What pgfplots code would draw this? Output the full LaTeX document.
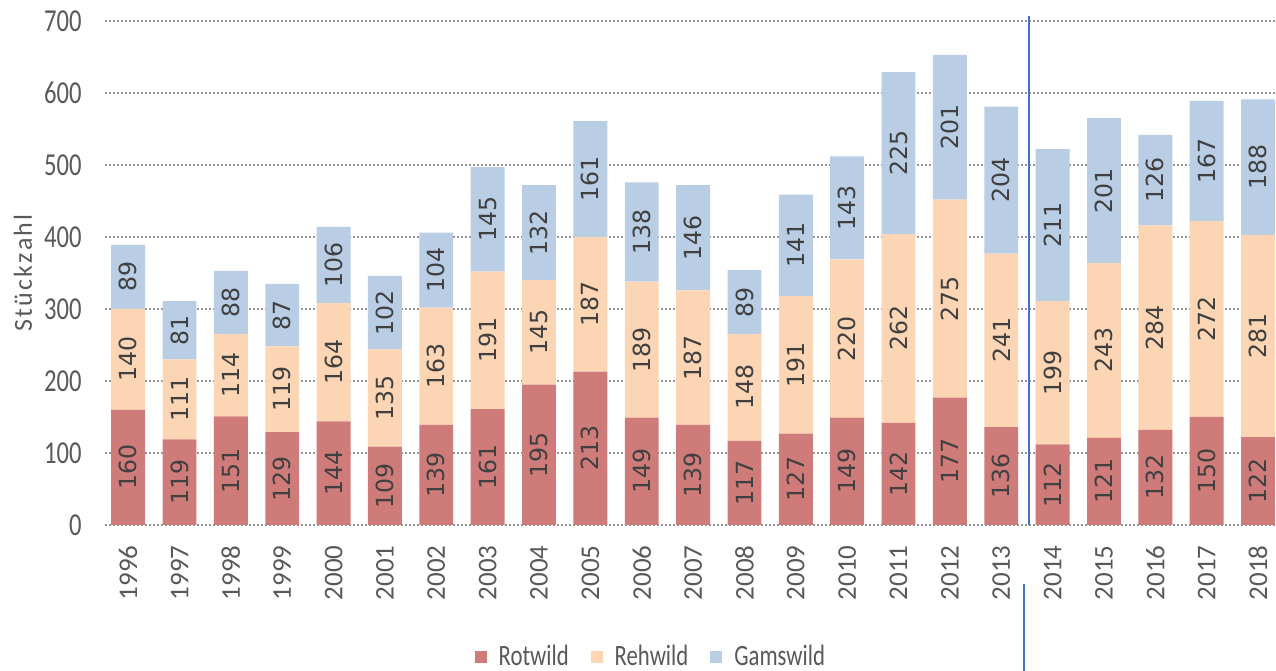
\documentclass[border=0pt]{standalone}
\usepackage{fontspec}
\setmainfont{Carlito}
\newfontfamily\condfont[FakeStretch=0.77]{Carlito}
\newfontfamily\barfont{DejaVu Sans}
\newfontfamily\ylabfont[LetterSpace=9]{Carlito}
\usepackage{pgfplots}
\usepackage{pgfplotstable}
\pgfplotsset{compat=1.18}
\definecolor{rotc}{HTML}{CF7B79}
\definecolor{rehc}{HTML}{FCD5B4}
\definecolor{gamc}{HTML}{B9CDE5}
\definecolor{labc}{HTML}{404040}
\definecolor{tickc}{HTML}{595959}
\definecolor{linec}{HTML}{4472C4}
\pgfplotstableread{
x rot reh gams
0 160 140 89
1 119 111 81
2 151 114 88
3 129 119 87
4 144 164 106
5 109 135 102
6 139 163 104
7 161 191 145
8 195 145 132
9 213 187 161
10 149 189 138
11 139 187 146
12 117 148 89
13 127 191 141
14 149 220 143
15 142 262 225
16 177 275 201
17 136 241 204
18 112 199 211
19 121 243 201
20 132 284 126
21 150 272 167
22 122 281 188
}\data
\begin{document}
\begin{tikzpicture}
\begin{axis}[
  scale only axis, width=585.5pt, height=252pt,
  ybar stacked, bar width=0.66,
  xmin=-0.45, xmax=22.35, ymin=0, ymax=700,
  ytick={0,100,...,700},
  xtick={0,...,22},
  xticklabels={1996,1997,1998,1999,2000,2001,2002,2003,2004,2005,2006,2007,2008,2009,2010,2011,2012,2013,2014,2015,2016,2017,2018},
  axis line style={draw=none}, tick style={draw=none},
  ymajorgrids, grid style={color=gray!85, line width=1pt, dash pattern=on 1pt off 1pt},
  clip=false,
  yticklabel style={font=\condfont\fontsize{16}{16}\selectfont, text=tickc, anchor=east, inner sep=0pt, xshift=-11.5pt},
  /pgf/number format/assume math mode=true,
  xticklabel style={yshift=-10pt, rotate=90, anchor=east, inner sep=0pt, font=\fontsize{13.5}{14}\selectfont, text=tickc},
  ylabel={Stückzahl},
  ylabel style={at={(axis description cs:-0.070,0.5)}, anchor=center, rotate=0, font=\ylabfont\fontsize{13}{14}\selectfont, text=tickc},
  nodes near coords style={rotate=90, anchor=center, inner sep=0pt, font=\barfont\fontsize{11.8}{12}\selectfont, text=labc},
  legend style={at={(0.467,-0.262)}, anchor=center, legend columns=3, draw=none, font=\condfont\fontsize{14.75}{15}\selectfont, text=tickc,
    /tikz/every odd column/.append style={column sep=4pt},
    /tikz/every even column/.append style={column sep=9pt}},
  legend image code/.code={\fill[#1] (0pt,-3pt) rectangle (6pt,3pt);},
]
\addplot[fill=rotc, draw=none, visualization depends on={\thisrow{rot} \as \segval}, nodes near coords={\pgfmathprintnumber{\segval}}] table[x=x,y=rot]{\data};
\addplot[fill=rehc, draw=none, visualization depends on={\thisrow{reh} \as \segval}, nodes near coords={\pgfmathprintnumber{\segval}}] table[x=x,y=reh]{\data};
\addplot[fill=gamc, draw=none, visualization depends on={\thisrow{gams} \as \segval}, nodes near coords={\pgfmathprintnumber{\segval}}] table[x=x,y=gams]{\data};
\legend{Rotwild,Rehwild,Gamswild}
\draw[linec, line width=0.8pt] (axis cs:17.54,0) -- (axis cs:17.54,707);
\draw[linec, line width=0.8pt] (axis cs:17.44,-82) -- (axis cs:17.44,-205);
\coordinate (bbsw) at (axis description cs:-0.0897,-0.2897);
\coordinate (bbne) at (axis description cs:1,1.0417);
\end{axis}
\pgfresetboundingbox
\path[use as bounding box] (bbsw) rectangle (bbne);
\end{tikzpicture}
\end{document}
